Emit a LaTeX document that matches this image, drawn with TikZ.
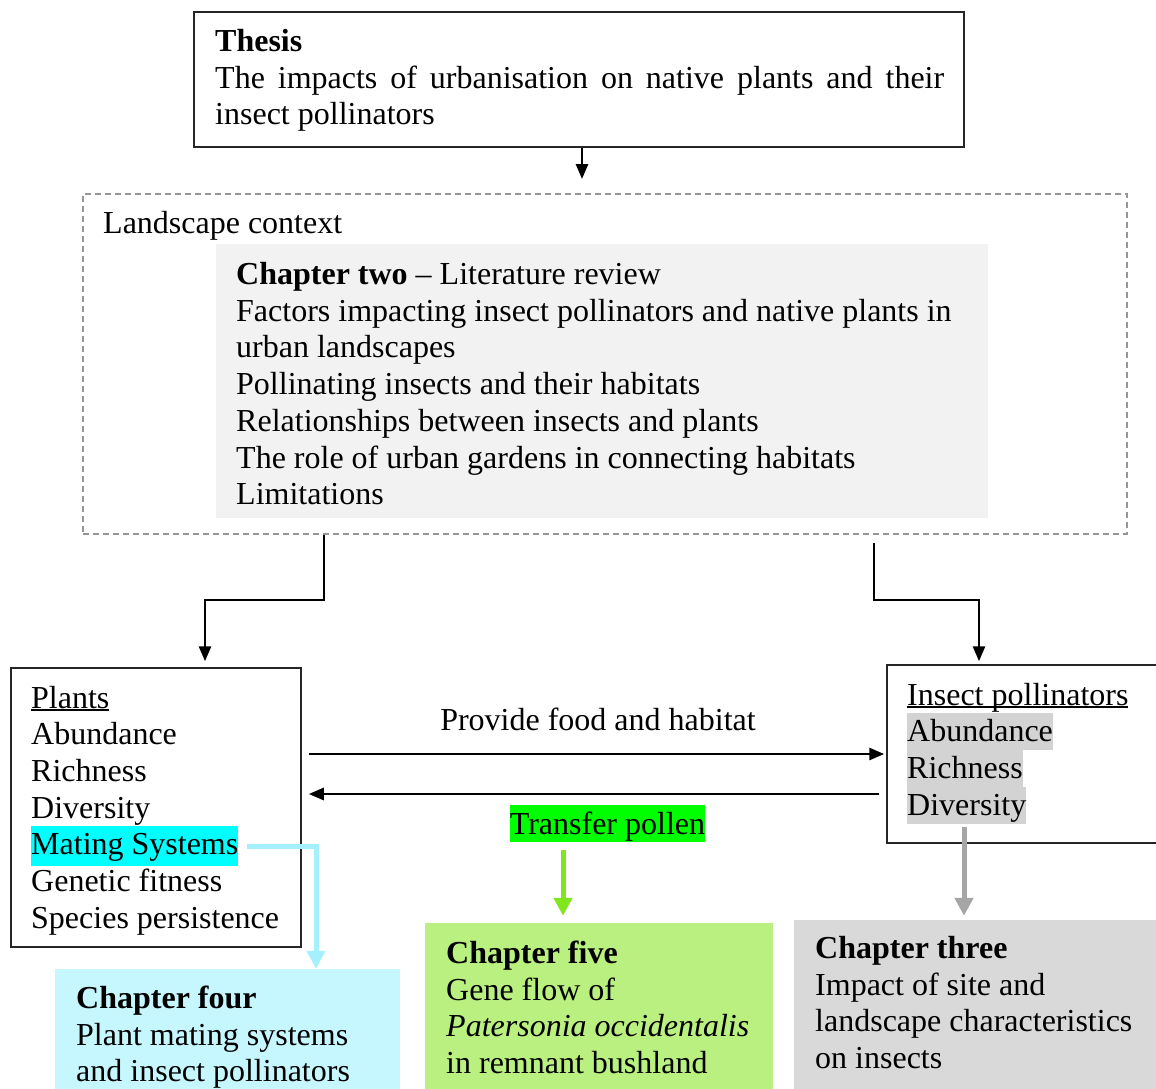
\documentclass[tikz,border=0pt]{standalone}
\usepackage{fontspec}
\setmainfont{Liberation Serif}
\usetikzlibrary{arrows.meta}
\definecolor{dashgray}{RGB}{150,150,150}
\definecolor{innerfill}{RGB}{242,242,242}
\definecolor{hlcyan}{RGB}{0,255,255}
\definecolor{hlgray}{RGB}{211,211,211}
\definecolor{hlgreen}{RGB}{0,255,0}
\definecolor{arrgreen}{RGB}{130,230,30}
\definecolor{fivefill}{RGB}{185,240,128}
\definecolor{arrcyan}{RGB}{165,240,255}
\definecolor{fourfill}{RGB}{198,247,255}
\definecolor{arrgray}{RGB}{166,166,166}
\definecolor{threefill}{RGB}{217,217,217}
\newcommand\hlx[4]{\leavevmode{\setlength\fboxsep{0pt}\colorbox{#1}{\rule[-#2]{0pt}{#3}#4}}}
\newcommand\ulx[1]{\leavevmode\setbox0\hbox{#1}\rlap{\rule[-3pt]{\wd0}{1.6pt}}\box0}
\newcommand\pbx[2]{\parbox[t]{#1}{#2}}
\begin{document}
\begin{tikzpicture}[x=1pt,y=-1pt,
  font=\fontsize{32pt}{36.7pt}\selectfont,
  framebox/.style={draw=black!85, line width=1.5pt, inner sep=0pt},
  fillbox/.style={inner sep=0pt, draw=none},
  txt/.style={anchor=base west, inner sep=0pt},
  blk/.style={line width=2.7pt, -{Triangle[length=15pt,width=12pt]}},
  colarr/.style={line width=5pt, -{Triangle[length=18pt,width=18pt]}}]
\useasboundingbox (0,0) rectangle (1156,1088);

% Thesis
\node[framebox, minimum width=770pt, minimum height=135pt] (thesis) at (579,79.5) {};
\node[txt] (thesistxt) at (215,51.5)
  {\pbx{729pt}{\textbf{Thesis}\\The impacts of urbanisation on native plants and their\linebreak insect pollinators}};

% Landscape context
\node[draw=dashgray, line width=2pt, dash pattern=on 6pt off 4pt, inner sep=0pt,
      minimum width=1044pt, minimum height=340pt] (landscape) at (605,364) {};
\node[txt] (landtxt) at (103,233.5) {Landscape context};
\node[fillbox, fill=innerfill, minimum width=772pt, minimum height=274pt] (chtwo) at (602,381) {};
\node[txt] (chtwotxt) at (236,284.5)
  {\pbx{740pt}{\textbf{Chapter two} -- Literature review\\
   Factors impacting insect pollinators and native plants in\\
   urban landscapes\\
   Pollinating insects and their habitats\\
   Relationships between insects and plants\\
   The role of urban gardens in connecting habitats\\
   Limitations}};

% Plants
\node[framebox, minimum width=290pt, minimum height=279pt] (plants) at (156,807.5) {};
\node[txt] (plantstxt) at (31,708)
  {\pbx{265pt}{\ulx{Plants}\\Abundance\\Richness\\Diversity\\
   \hlx{hlcyan}{11pt}{40pt}{Mating Systems}\\Genetic fitness\\Species persistence}};
\coordinate (mating) at (247,846);

% Insect pollinators
\node[framebox, minimum width=273pt, minimum height=178pt] (insect) at (1023.5,754) {};
\node[txt] (insecttxt) at (907,705)
  {\pbx{240pt}{\ulx{Insect pollinators}\\\hlx{hlgray}{8.4pt}{36.7pt}{Abundance}\\
   \hlx{hlgray}{8.4pt}{36.7pt}{Richness}\\\hlx{hlgray}{8.4pt}{36.7pt}{Diversity}}};

% middle labels
\node[anchor=base, inner sep=0pt] (provide) at (598,730.5) {Provide food and habitat};
\node[anchor=base, inner sep=0pt] (transfer) at (607.5,834) {\hlx{hlgreen}{8pt}{37pt}{Transfer pollen}};

% Chapter boxes
\node[fillbox, fill=fourfill, minimum width=345pt, minimum height=121pt] (four) at (227.5,1029.5) {};
\node[txt] (fourtxt) at (76,1008.5)
  {\pbx{320pt}{\textbf{Chapter four}\\Plant mating systems\\and insect pollinators}};
\node[fillbox, fill=fivefill, minimum width=348pt, minimum height=167pt] (five) at (599,1006.5) {};
\node[txt] (fivetxt) at (446,963.5)
  {\pbx{320pt}{\textbf{Chapter five}\\Gene flow of\\\textit{Patersonia occidentalis}\\in remnant bushland}};
\node[fillbox, fill=threefill, minimum width=366pt, minimum height=170pt] (three) at (977,1005) {};
\node[txt] (threetxt) at (815,958.5)
  {\pbx{340pt}{\textbf{Chapter three}\\Impact of site and\\landscape characteristics\\on insects}};

% connectors
\draw[blk, shorten >=14pt] ([xshift=3pt]thesis.south) -- ([xshift=3pt]thesis.south |- landscape.north);
\draw[blk, shorten >=6pt] ([xshift=-281pt]landscape.south) -- ++(0,65) -| ([xshift=49pt]plants.north);
\draw[blk, shorten >=3pt] ([xshift=269pt,yshift=-8pt]landscape.south) -- ++(0,57) -| ([xshift=-44.5pt]insect.north);
\draw[blk, shorten <=7pt, shorten >=2pt] (plants.east |- 0,754) -- (insect.west |- 0,754);
\draw[blk, shorten <=7pt, shorten >=7pt] (insect.west |- 0,794) -- (plants.east |- 0,794);
\draw[colarr, draw=arrcyan, -{Triangle[length=18pt,width=18pt,fill=arrcyan]}] (mating) -| ([xshift=88.5pt]four.north);
\draw[colarr, draw=arrgreen, shorten <=8pt, shorten >=7pt] (transfer.south -| 563,0) -- (five.north -| 563,0);
\draw[colarr, draw=arrgray, shorten <=3pt, shorten >=4pt] (insecttxt.south -| 964,0) -- (three.north -| 964,0);
\end{tikzpicture}
\end{document}
